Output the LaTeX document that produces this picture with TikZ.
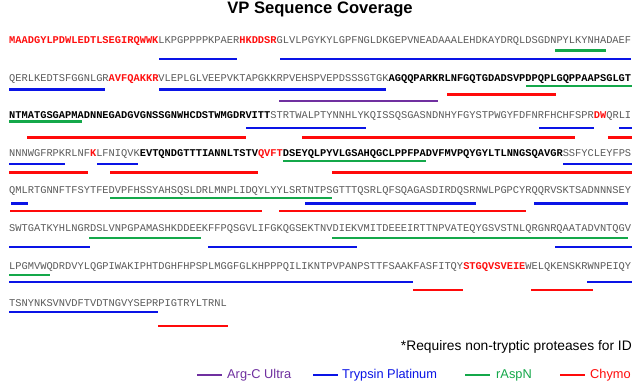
\documentclass[tikz,border=0pt]{standalone}
\usepackage{fontspec}
\setmainfont{Liberation Sans}
\newfontfamily\seqfont{Liberation Mono}
\definecolor{seqgray}{HTML}{5A5A5A}
\definecolor{seqred}{HTML}{FF1010}
\definecolor{cpurple}{HTML}{7030A0}
\definecolor{cblue}{HTML}{0A14E6}
\definecolor{cgreen}{HTML}{14A84A}
\definecolor{cred}{HTML}{FF0A0A}
\newcommand\gr[1]{\textcolor{seqgray}{#1}}
\newcommand\rd[1]{\textcolor{seqred}{\bfseries #1}}
\newcommand\bk[1]{\textcolor{black}{\bfseries #1}}
\begin{document}
\begin{tikzpicture}[x=1pt,y=-1pt,
  seqline/.style={anchor=base west,inner sep=0pt,font=\seqfont\fontsize{10.365pt}{12pt}\selectfont},
  argc/.style={draw=cpurple,line width=2.5pt},
  tryp/.style={draw=cblue,line width=2.5pt},
  aspn/.style={draw=cgreen,line width=2.5pt},
  chym/.style={draw=cred,line width=2.5pt},
  legtext/.style={anchor=west,inner sep=0pt,font=\fontsize{12.8pt}{14pt}\selectfont}]
\useasboundingbox[fill=white] (0,0) rectangle (640,390);
\node[font=\bfseries\fontsize{16.6pt}{18pt}\selectfont] (title) at (320,9) {VP Sequence Coverage};
% sequence lines
\node[seqline] (l1) at (9,43.5) {\rd{MAADGYLPDWLEDTLSEGIRQWWK}\gr{LKPGPPPPKPAER}\rd{HKDDSR}\gr{GLVLPGYKYLGPFNGLDKGEPVNEADAAALEHDKAYDRQLDSGDNPYLKYNHADAEF}};
\node[seqline] (l2) at (9,81.1) {\gr{QERLKEDTSFGGNLGR}\rd{AVFQAKKR}\gr{VLEPLGLVEEPVKTAPGKKRPVEHSPVEPDSSSGTGK}\bk{AGQQPARKRLNFGQTGDADSVPDPQPLGQPPAAPSGLGT}};
\node[seqline] (l3) at (9,118.7) {\bk{NTMATGSGAPMADNNEGADGVGNSSGNWHCDSTWMGDRVITT}\gr{STRTWALPTYNNHLYKQISSQSGASNDNHYFGYSTPWGYFDFNRFHCHFSPR}\rd{DW}\gr{QRLI}};
\node[seqline] (l4) at (9,156.3) {\gr{NNNWGFRPKRLNF}\rd{K}\gr{LFNIQVK}\bk{EVTQNDGTTTIANNLTSTV}\rd{QVFT}\bk{DSEYQLPYVLGSAHQGCLPPFPADVFMVPQYGYLTLNNGSQAVGR}\gr{SSFYCLEYFPS}};
\node[seqline] (l5) at (9,193.9) {\gr{QMLRTGNNFTFSYTFEDVPFHSSYAHSQSLDRLMNPLIDQYLYYLSRTNTPSGTTTQSRLQFSQAGASDIRDQSRNWLPGPCYRQQRVSKTSADNNNSEY}};
\node[seqline] (l6) at (9,231.5) {\gr{SWTGATKYHLNGRDSLVNPGPAMASHKDDEEKFFPQSGVLIFGKQGSEKTNVDIEKVMITDEEEIRTTNPVATEQYGSVSTNLQRGNRQAATADVNTQGV}};
\node[seqline] (l7) at (9,269.1) {\gr{LPGMVWQDRDVYLQGPIWAKIPHTDGHFHPSPLMGGFGLKHPPPQILIKNTPVPANPSTTFSAAKFASFITQY}\rd{STGQVSVEIE}\gr{WELQKENSKRWNPEIQY}};
\node[seqline] (l8) at (9,306.7) {\gr{TSNYNKSVNVDFTVDTNGVYSEPRPIGTRYLTRNL}};
% coverage bars, line 1
\draw[aspn] (555,50.5) -- (606,50.5);
\draw[tryp] (159,59) -- (237,59);
\draw[tryp] (280,59) -- (631,59);
% line 2
\draw[aspn] (526,86) -- (632,86);
\draw[tryp] (9,89.5) -- (105,89.5);
\draw[tryp] (159,89.5) -- (386,89.5);
\draw[chym] (447,94.5) -- (556,94.5);
\draw[argc] (279,101) -- (438,101);
% line 3
\draw[aspn] (9,121.5) -- (82,121.5);
\draw[tryp] (246,128) -- (366,128);
\draw[tryp] (539,128) -- (594,128);
\draw[tryp] (619,128) -- (632,128);
\draw[chym] (27,137.5) -- (246,137.5);
\draw[chym] (302,137.5) -- (575,137.5);
\draw[chym] (608,137.5) -- (632,137.5);
% line 4
\draw[aspn] (283,161) -- (426,161);
\draw[tryp] (9,164) -- (65,164);
\draw[tryp] (97,164) -- (138,164);
\draw[tryp] (563,164) -- (632,164);
\draw[chym] (9,172.5) -- (88,172.5);
\draw[chym] (110,172.5) -- (258,172.5);
\draw[chym] (332,172.5) -- (632,172.5);
% line 5
\draw[aspn] (110,198) -- (332,198);
\draw[tryp] (11,203.5) -- (28,203.5);
\draw[tryp] (305,203.5) -- (476,203.5);
\draw[tryp] (534,203.5) -- (628,203.5);
\draw[chym] (10,211) -- (262,211);
\draw[chym] (279,211) -- (526,211);
% line 6
\draw[aspn] (89,238) -- (201,238);
\draw[aspn] (332,238) -- (628,238);
\draw[tryp] (9,247) -- (90,247);
\draw[tryp] (208,247) -- (357,247);
\draw[tryp] (555,247) -- (632,247);
% line 7
\draw[aspn] (9,275) -- (50,275);
\draw[tryp] (9,282) -- (413,282);
\draw[tryp] (587,282) -- (632,282);
\draw[chym] (413,290) -- (463,290);
\draw[chym] (531,290) -- (593,290);
% line 8
\draw[tryp] (9,312) -- (158,312);
\draw[chym] (158,326) -- (228,326);
% footnote and legend
\node[anchor=east,inner sep=0pt,font=\fontsize{13.8pt}{15pt}\selectfont] (note) at (632,347) {*Requires non-tryptic proteases for ID};
\draw[argc] (197,375) -- (222,375);
\node[legtext,text=cpurple] (lgA) at (227,375) {Arg-C Ultra};
\draw[tryp] (313,375) -- (338,375);
\node[legtext,text=cblue] (lgT) at (342,375) {Trypsin Platinum};
\draw[aspn] (465,375) -- (490,375);
\node[legtext,text=cgreen] (lgN) at (496,375) {rAspN};
\draw[chym] (560,375) -- (585,375);
\node[legtext,text=cred] (lgC) at (590,375) {Chymo};
\end{tikzpicture}
\end{document}
